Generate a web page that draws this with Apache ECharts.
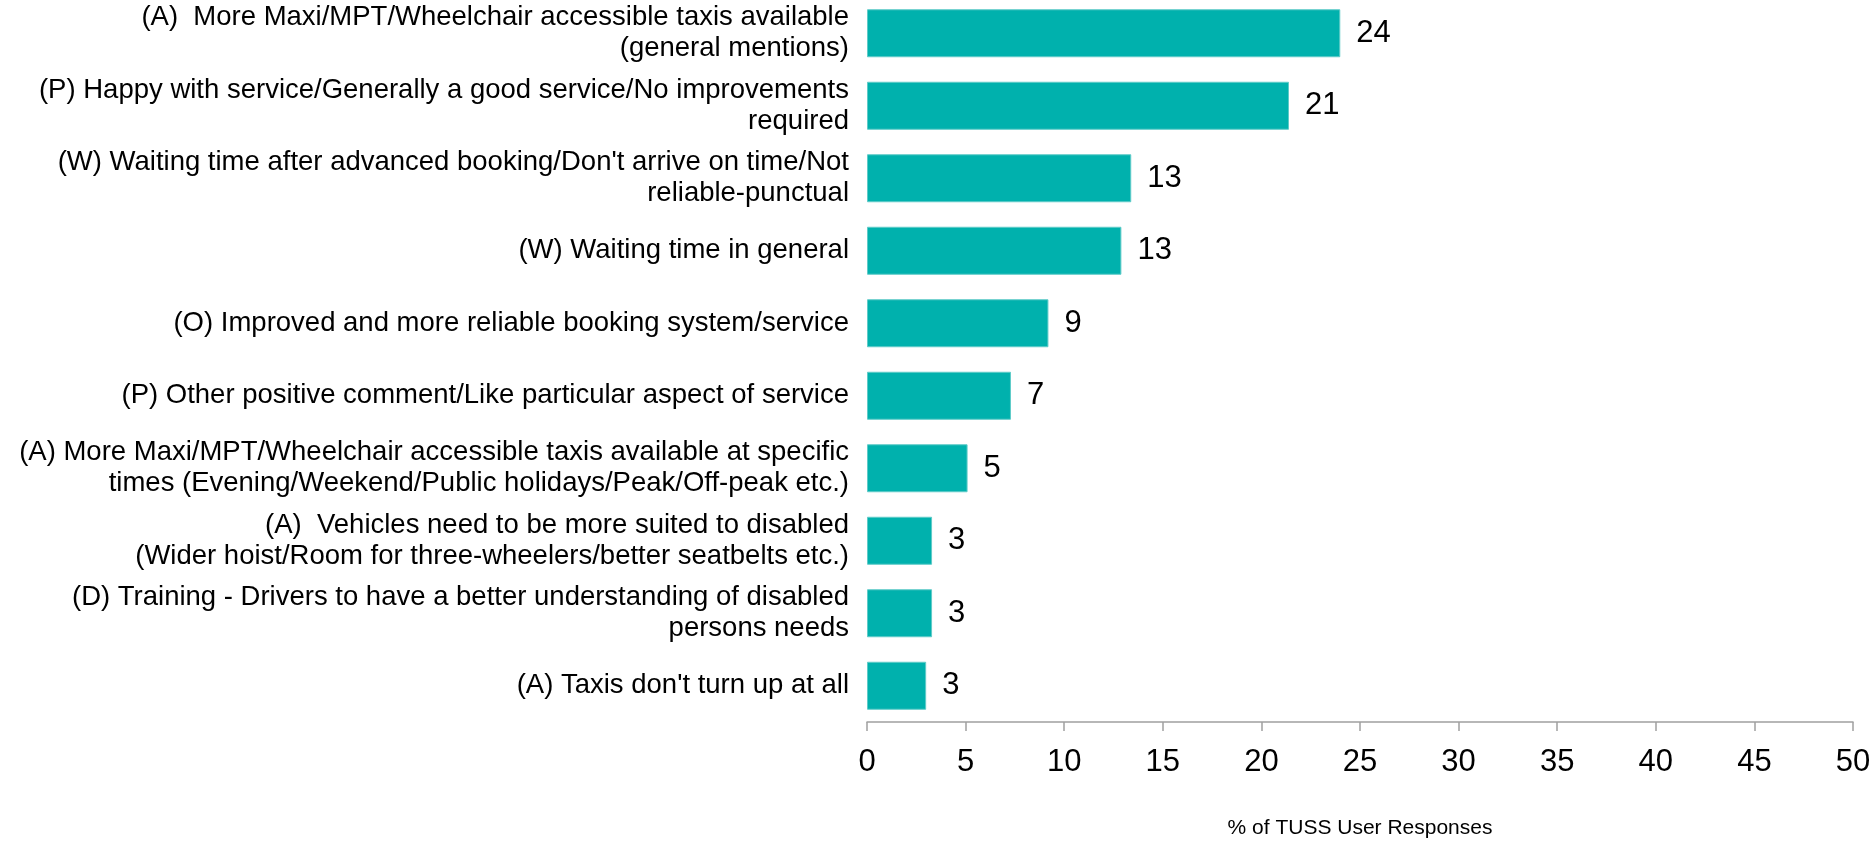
<!DOCTYPE html>
<html>
<head>
<meta charset="utf-8">
<title>TUSS user suggestions</title>
<script src="https://cdn.jsdelivr.net/npm/echarts@6/dist/echarts.min.js"></script>
<style>
  html, body { margin: 0; padding: 0; background: #ffffff; }
  #chart { width: 1874px; height: 843px; }
</style>
</head>
<body>
<div id="chart"></div>
<script>
// Response categories, listed top to bottom
const categories = [
  "(A)  More Maxi/MPT/Wheelchair accessible taxis available\n(general mentions)",
  "(P) Happy with service/Generally a good service/No improvements\nrequired",
  "(W) Waiting time after advanced booking/Don't arrive on time/Not\nreliable-punctual",
  "(W) Waiting time in general",
  "(O) Improved and more reliable booking system/service",
  "(P) Other positive comment/Like particular aspect of service",
  "(A) More Maxi/MPT/Wheelchair accessible taxis available at specific\ntimes (Evening/Weekend/Public holidays/Peak/Off-peak etc.)",
  "(A)  Vehicles need to be more suited to disabled\n(Wider hoist/Room for three-wheelers/better seatbelts etc.)",
  "(D) Training - Drivers to have a better understanding of disabled\npersons needs",
  "(A) Taxis don't turn up at all"
];

// Share of TUSS user responses (%), shown rounded to whole numbers
const responseShare = [24.0, 21.4, 13.4, 12.9, 9.2, 7.3, 5.1, 3.3, 3.3, 3.0];

// Percentage axis
const axisMin = 0;
const axisMax = 50;
const axisStep = 5;
const axisTitle = "% of TUSS User Responses";

const baseFont = "'Liberation Sans', Arial, sans-serif";

const chart = echarts.init(document.getElementById('chart'), null, { renderer: 'canvas' });

chart.setOption({
  animation: false,
  backgroundColor: '#ffffff',
  grid: {
    left: 867,
    right: 21,
    top: -3,
    bottom: 121,
    containLabel: false,
    outerBoundsMode: 'none'
  },
  xAxis: {
    type: 'value',
    min: axisMin,
    max: axisMax,
    interval: axisStep,
    position: 'bottom',
    axisLine: { show: true, lineStyle: { color: '#a0a0a0', width: 1.5 } },
    axisTick: { show: true, length: 9, lineStyle: { color: '#a0a0a0', width: 1.5 } },
    splitLine: { show: false },
    axisLabel: {
      margin: 25,
      color: '#000000',
      fontFamily: baseFont,
      fontSize: 31
    },
    name: axisTitle,
    nameLocation: 'middle',
    nameGap: 96,
    nameTextStyle: {
      color: '#000000',
      fontFamily: baseFont,
      fontSize: 21
    }
  },
  yAxis: {
    type: 'category',
    data: categories,
    inverse: true,
    axisLine: { show: false },
    axisTick: { show: false },
    splitLine: { show: false },
    axisLabel: {
      margin: 18,
      color: '#000000',
      fontFamily: baseFont,
      fontSize: 27.5,
      lineHeight: 31,
      padding: [9, 0, 0, 0],
      align: 'right',
      interval: 0
    }
  },
  series: [{
    type: 'bar',
    data: responseShare,
    barWidth: 48,
    itemStyle: { color: '#00b1ad', borderColor: '#5fcbc8', borderWidth: 1 },
    label: {
      show: true,
      position: 'right',
      distance: 16,
      color: '#000000',
      fontFamily: baseFont,
      fontSize: 31,
      formatter: p => String(Math.round(p.value))
    }
  }]
});
</script>
</body>
</html>
